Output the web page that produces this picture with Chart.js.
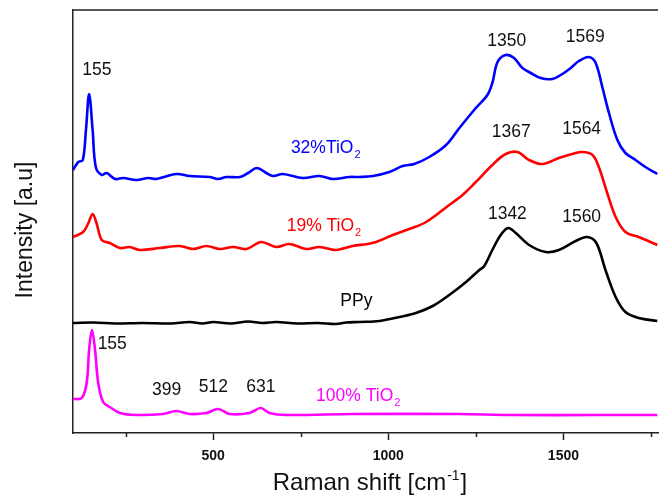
<!DOCTYPE html>
<html>
<head>
<meta charset="utf-8">
<script src="https://cdn.jsdelivr.net/npm/chart.js@4.4.1/dist/chart.umd.min.js"></script>
<style>
  html, body { margin: 0; padding: 0; background: #fff; }
  #wrap { width: 659px; height: 497px; position: relative; }
</style>
</head>
<body>
<div id="wrap"><canvas id="raman"></canvas></div>
<script>
// Raman spectra (shift in cm-1, intensity in arbitrary units)
const blueShift = [100, 115, 128, 137, 146, 156, 165, 182, 196, 220, 243, 281, 315, 338, 395, 433, 490, 514, 538, 576,
  600, 625, 652, 671, 699, 756, 804, 842, 889, 918, 956, 1003, 1041, 1074, 1117, 1165, 1203, 1250, 1283, 1297,
  1312, 1335, 1359, 1383, 1407, 1435, 1468, 1497, 1521, 1544, 1573, 1592, 1611, 1630, 1654, 1677, 1706, 1734, 1768];
const blueIntensity = [263, 271, 273, 303, 339, 303, 266, 258, 260, 254, 255, 253, 255, 254, 259, 257, 256, 254, 256, 256,
  260, 265, 260, 257, 259, 255, 257, 254, 256, 256, 257, 261, 267, 269, 276, 288, 305, 325, 338, 350,
  371, 378, 375, 365, 360, 355, 354, 359, 365, 372, 376, 370, 346, 320, 293, 280, 273, 266, 259];

const redShift = [100, 129, 144, 156, 167, 182, 205, 234, 262, 291, 348, 405, 443, 481, 519, 557, 595, 637, 680, 718,
  766, 804, 851, 898, 941, 965, 1013, 1060, 1108, 1174, 1212, 1250, 1297, 1335, 1369, 1402, 1440, 1487, 1525, 1554,
  1583, 1601, 1625, 1649, 1677, 1715, 1768];
const redIntensity = [196, 201, 210, 219, 210, 193, 190, 185, 186, 183, 185, 187, 184, 187, 184, 186, 184, 191, 186, 189,
  184, 186, 183, 187, 189, 191, 198, 204, 211, 228, 238, 251, 268, 279, 281, 273, 269, 275, 279, 281,
  278, 266, 240, 216, 201, 196, 188];

const ppyShift = [100, 160, 220, 300, 380, 433, 470, 500, 550, 600, 640, 680, 740, 800, 850, 880, 918, 975, 1032, 1079,
  1127, 1174, 1222, 1260, 1274, 1297, 1321, 1342, 1364, 1402, 1450, 1487, 1535, 1568, 1594, 1620, 1649, 1677, 1715, 1768];
const ppyIntensity = [110, 110.5, 109.5, 110, 109.5, 111, 109.5, 111, 109.5, 111.5, 110, 111, 109.5, 110, 109, 110.5, 111, 112, 116, 120,
  127, 138, 151, 163, 167, 183, 198, 205, 200, 188, 181, 183, 192, 196, 190, 163, 136, 121, 115, 112];

const tio2Shift = [100, 125, 139, 146, 154, 163, 172, 186, 205, 234, 281, 357, 395, 433, 481, 514, 547, 604, 636, 661,
  709, 900, 1200, 1350, 1600, 1768];
const tio2Intensity = [34, 35, 50, 83, 103, 83, 50, 31, 26, 20, 18, 19, 22, 19, 20, 24, 19, 20, 25, 20,
  18, 19, 19, 18, 18, 18];

const seriesNames = ['32%TiO2', '19% TiO2', 'PPy', '100% TiO2'];
const seriesColors = ['#0000ff', '#ff0000', '#000000', '#ff00ff'];

const tickValues = [250, 500, 750, 1000, 1250, 1500, 1750];

// peak labels: text, shift, intensity (label centre)
const peakLabels = [
  ['155', 168, 364], ['1350', 1338, 393], ['1569', 1562, 397],
  ['1367', 1351, 302], ['1564', 1552, 305],
  ['1342', 1340, 220], ['1560', 1552, 217],
  ['155', 212, 90], ['399', 367, 44], ['512', 501, 47], ['631', 636, 47]
];
// curve names: text, subscript, shift, intensity (left edge), colour index
const curveLabels = [
  ['32%TiO', '2', 722, 286, 0],
  ['19% TiO', '2', 710, 208, 1],
  ['PPy', '', 863, 133, 2],
  ['100% TiO', '2', 794, 38, 3]
];

const FONT = "'Liberation Sans', Arial, sans-serif";

const pair = (xs, ys) => xs.map((v, i) => ({ x: v, y: ys[i] }));

const overlay = {
  id: 'overlay',
  afterDraw(chart) {
    const { ctx, chartArea: a, scales: { x, y } } = chart;
    ctx.save();

    // top frame line
    ctx.strokeStyle = '#222';
    ctx.lineWidth = 1.5;
    ctx.beginPath();
    ctx.moveTo(a.left, a.top);
    ctx.lineTo(a.right, a.top);
    // short minor ticks
    tickValues.filter(v => v % 500 !== 0).forEach(v => {
      const px = Math.round(x.getPixelForValue(v)) + 0.5;
      ctx.moveTo(px, a.bottom);
      ctx.lineTo(px, a.bottom + 4);
    });
    ctx.stroke();

    // peak positions
    ctx.fillStyle = '#111';
    ctx.font = '17.5px ' + FONT;
    ctx.textAlign = 'center';
    ctx.textBaseline = 'alphabetic';
    peakLabels.forEach(([t, xv, yv]) => {
      ctx.fillText(t, x.getPixelForValue(xv), y.getPixelForValue(yv) + 6);
    });

    // curve names with subscript
    ctx.textAlign = 'left';
    curveLabels.forEach(([t, sub, xv, yv, ci]) => {
      const px = x.getPixelForValue(xv);
      const py = y.getPixelForValue(yv) + 6;
      ctx.fillStyle = seriesColors[ci];
      ctx.font = '17.5px ' + FONT;
      ctx.fillText(t, px, py);
      if (sub) {
        const w = ctx.measureText(t).width;
        ctx.font = '11px ' + FONT;
        ctx.fillText(sub, px + w + 1, py + 5);
      }
    });

    // axis titles
    ctx.fillStyle = '#111';
    ctx.font = '23px ' + FONT;
    ctx.textAlign = 'center';
    ctx.textBaseline = 'middle';
    ctx.save();
    ctx.translate(26, 230);
    ctx.rotate(-Math.PI / 2);
    ctx.fillText('Intensity [a.u]', 0, 0);
    ctx.restore();

    ctx.textAlign = 'left';
    ctx.textBaseline = 'alphabetic';
    const part1 = 'Raman shift [cm', sup = '-1', part2 = ']';
    ctx.font = '24px ' + FONT;
    const w1 = ctx.measureText(part1).width;
    const w3 = ctx.measureText(part2).width;
    ctx.font = '14px ' + FONT;
    const w2 = ctx.measureText(sup).width;
    let sx = 370 - (w1 + w2 + w3 + 2) / 2;
    const base = 490;
    ctx.font = '24px ' + FONT;
    ctx.fillText(part1, sx, base);
    ctx.font = '14px ' + FONT;
    ctx.fillText(sup, sx + w1 + 1, base - 10);
    ctx.font = '24px ' + FONT;
    ctx.fillText(part2, sx + w1 + w2 + 2, base);

    ctx.restore();
  }
};

const datasets = [
  pair(blueShift, blueIntensity),
  pair(redShift, redIntensity),
  pair(ppyShift, ppyIntensity),
  pair(tio2Shift, tio2Intensity)
].map((d, i) => ({
  label: seriesNames[i],
  data: d,
  borderColor: seriesColors[i],
  backgroundColor: seriesColors[i],
  borderWidth: 2.6,
  pointRadius: 0,
  fill: false,
  tension: 0.35
}));

new Chart(document.getElementById('raman').getContext('2d'), {
  type: 'line',
  data: { datasets },
  options: {
    responsive: true,
    maintainAspectRatio: false,
    animation: false,
    layout: { padding: { top: 10, right: 0, left: 0, bottom: 0 } },
    plugins: {
      legend: { display: false },
      tooltip: { enabled: false }
    },
    scales: {
      x: {
        type: 'linear',
        min: 100,
        max: 1770,
        afterFit: s => { s.height = 64; },
        afterBuildTicks: s => { s.ticks = tickValues.map(v => ({ value: v })); },
        grid: {
          display: true,
          drawOnChartArea: false,
          drawTicks: true,
          tickLength: 7,
          tickWidth: 1.5,
          tickColor: c => (c.tick && c.tick.value % 500 === 0) ? '#222' : 'rgba(0,0,0,0)'
        },
        border: { display: true, color: '#222', width: 1.5 },
        ticks: {
          padding: 8,
          color: '#111',
          font: { family: FONT, size: 14, weight: 'bold' },
          maxRotation: 0,
          autoSkip: false,
          callback: v => (v % 500 === 0 ? String(v) : '')
        }
      },
      y: {
        type: 'linear',
        min: 0,
        max: 423,
        afterFit: s => { s.width = 73; },
        grid: { display: false },
        border: { display: true, color: '#222', width: 1.5 },
        ticks: { display: false }
      }
    }
  },
  plugins: [overlay]
});
</script>
</body>
</html>
